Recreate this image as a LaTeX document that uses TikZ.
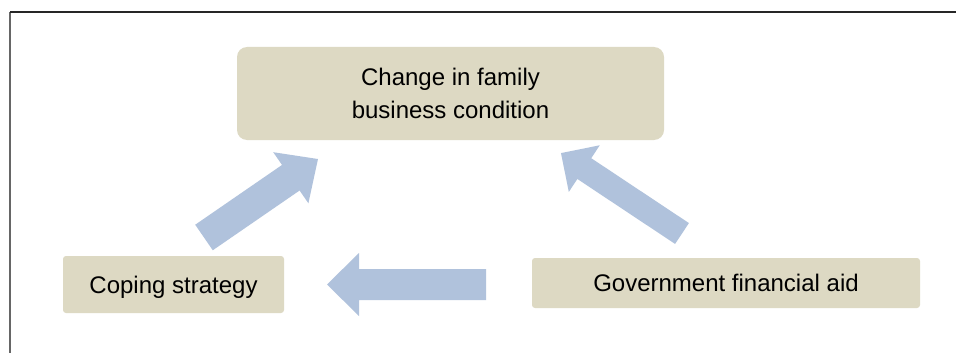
\documentclass[tikz,border=0pt]{standalone}
\usepackage{fontspec}
\setmainfont{Liberation Sans}
\definecolor{boxfill}{HTML}{DDD9C3}
\definecolor{arrowfill}{HTML}{B0C2DC}
\newcommand\blockarr[6]{% tail, angle, length, shaft width, head width, head length
  \begin{scope}[shift={(#1)},rotate=#2]
    \fill[arrowfill] (0,-#4/2) -- ({#3-#6},-#4/2) -- ({#3-#6},-#5/2) -- (#3,0)
      -- ({#3-#6},#5/2) -- ({#3-#6},#4/2) -- (0,#4/2) -- cycle;
  \end{scope}}
\begin{document}
\begin{tikzpicture}[x=1pt,y=-1pt,
  cbox/.style={rectangle,fill=boxfill,inner sep=0pt,align=center,
    font=\fontsize{24}{33}\selectfont},
  onebox/.style={cbox,rounded corners=3pt,text height=17pt,text depth=0pt},
  frameline/.style={line width=1.5pt}]
\useasboundingbox (0,0) rectangle (956,353);
\fill[white] (0,0) rectangle (956,353);
\draw[frameline,black!60] (10,353) -- (10,12);
\draw[frameline,black!85] (10,12) -- (956,12);
\node[cbox,rounded corners=10pt,minimum width=427pt,minimum height=93pt]
  (change) at (450.5,93.5) {Change in family\\business condition};
\node[onebox,minimum width=221pt,minimum height=57pt]
  (coping) at (173.5,284.5) {Coping strategy};
\node[onebox,minimum width=388pt,minimum height=50pt]
  (gov) at (726,283) {Government financial aid};
\coordinate (t1) at (204,237.5);
\coordinate (t2) at (682,233.5);
\coordinate (t3) at (486,284.5);
\blockarr{t1}{34.55}{138.4}{31}{62}{33}
\blockarr{t2}{146.4}{145.3}{25}{56}{28}
\blockarr{t3}{180}{159}{31}{63}{32}
\end{tikzpicture}
\end{document}
